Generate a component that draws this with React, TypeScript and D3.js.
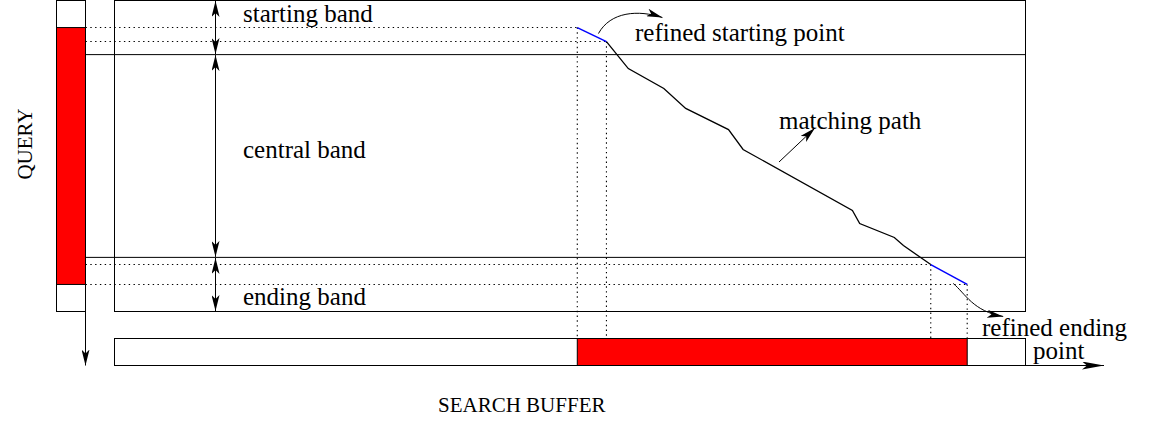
import React from 'react'
import * as d3 from 'd3'

// query axis runs 0..100 top to bottom, search buffer 0..100 left to right
const bandEdges = [0, 17.4, 82.6, 100]
const bandLabels = ['starting band', 'central band', 'ending band']
const refinedStart = [[50.8, 8.7], [54.0, 13.2]]
const refinedEnd = [[89.6, 84.9], [93.6, 91.3]]
const matchingPath = [
  [54.0, 13.2], [56.4, 21.9], [60.3, 28.3], [62.7, 34.7], [67.4, 41.5],
  [69.0, 47.9], [81.0, 67.5], [81.8, 71.7], [85.6, 76.2], [86.6, 78.8], [89.6, 84.9]
]

const W = 1152
const H = 423
const FONT = '"Liberation Serif", "Times New Roman", serif'
const FS = 25

export default function App() {
  const x = d3.scaleLinear().domain([0, 100]).range([114.5, 1025.5])
  const y = d3.scaleLinear().domain([0, 100]).range([0.5, 311.5])
  const line = d3.line<number[]>().x(d => x(d[0])).y(d => y(d[1]))

  const qx0 = 56.5, qx1 = 85.5
  const bufTop = 338.5, bufBot = 365.5
  const arrowX = 215.5

  const sTop = y(refinedStart[0][1]), sBot = y(refinedStart[1][1])
  const eTop = y(refinedEnd[0][1]), eBot = y(refinedEnd[1][1])
  const dotted = { stroke: '#000', strokeWidth: 1.1, strokeDasharray: '1.4,3.4' }

  const p0 = [x(refinedStart[1][0]) - 8, sBot - 8]
  const e0 = [x(refinedEnd[1][0]) - 14, eBot - 1]

  return (
    <svg width={W} height={H} style={{ position: 'absolute', left: 0, top: 0, background: '#fff' }}>
      <defs>
        <marker id="ah" viewBox="0 0 16 8" refX="16" refY="4" markerWidth="16" markerHeight="8"
          markerUnits="userSpaceOnUse" orient="auto-start-reverse">
          <path d="M0,0 L16,4 L0,8 L4,4 Z" fill="#000" />
        </marker>
        <marker id="ahBig" viewBox="0 0 22 8" refX="22" refY="4" markerWidth="22" markerHeight="8"
          markerUnits="userSpaceOnUse" orient="auto">
          <path d="M0,0 L22,4 L0,8 L5,4 Z" fill="#000" />
        </marker>
      </defs>

      {/* query bar */}
      <rect x={qx0} y={y(0)} width={qx1 - qx0} height={y(100) - y(0)} fill="#fff" stroke="#000" />
      <rect x={qx0} y={sTop} width={qx1 - qx0} height={eBot - sTop} fill="#ff0000" stroke="#000" />
      <line x1={qx1} x2={qx1} y1={y(100)} y2={bufBot} stroke="#000" markerEnd="url(#ah)" />
      <text transform={`translate(32,144) rotate(-90)`} textAnchor="middle" fontFamily={FONT} fontSize={21}>QUERY</text>

      {/* main band area */}
      <rect x={x(0)} y={y(0)} width={x(100) - x(0)} height={y(100) - y(0)} fill="none" stroke="#000" />
      {bandEdges.slice(1, -1).map((b, i) => (
        <line key={i} x1={qx1} x2={x(100)} y1={y(b)} y2={y(b)} stroke="#000" />
      ))}

      {/* dotted projections */}
      <line x1={qx1} x2={x(refinedStart[0][0])} y1={sTop} y2={sTop} {...dotted} />
      <line x1={qx1} x2={x(refinedStart[1][0])} y1={sBot} y2={sBot} {...dotted} />
      <line x1={qx1} x2={x(refinedEnd[0][0])} y1={eTop} y2={eTop} {...dotted} />
      <line x1={qx1} x2={x(refinedEnd[1][0])} y1={eBot} y2={eBot} {...dotted} />
      {[refinedStart[0], refinedStart[1], refinedEnd[0], refinedEnd[1]].map((p, i) => (
        <line key={i} x1={x(p[0])} x2={x(p[0])} y1={y(p[1])} y2={bufTop} {...dotted} />
      ))}

      {/* band arrows & labels */}
      {bandLabels.map((lab, i) => (
        <line key={lab} x1={arrowX} x2={arrowX} y1={y(bandEdges[i]) + 0.5} y2={y(bandEdges[i + 1]) - 0.5}
          stroke="#000" markerStart="url(#ah)" markerEnd="url(#ah)" />
      ))}
      <text x={243} y={22} fontFamily={FONT} fontSize={FS}>{bandLabels[0]}</text>
      <text x={243} y={158} fontFamily={FONT} fontSize={FS}>{bandLabels[1]}</text>
      <text x={243} y={305} fontFamily={FONT} fontSize={FS}>{bandLabels[2]}</text>

      {/* matching path */}
      <path d={line(matchingPath) || ''} fill="none" stroke="#000" strokeWidth={1.3} />
      <path d={line(refinedStart) || ''} fill="none" stroke="#0000ff" strokeWidth={1.5} />
      <path d={line(refinedEnd) || ''} fill="none" stroke="#0000ff" strokeWidth={1.5} />

      <line x1={779} y1={162} x2={815} y2={128} stroke="#000" markerEnd="url(#ah)" />
      <text x={779} y={129} fontFamily={FONT} fontSize={FS}>matching path</text>

      <path d={`M${p0[0]},${p0[1]} C${p0[0] + 12},${p0[1] - 22} ${p0[0] + 40},${p0[1] - 24} ${p0[0] + 64},${p0[1] - 16}`}
        fill="none" stroke="#000" markerEnd="url(#ah)" />
      <text x={635} y={41} fontFamily={FONT} fontSize={FS}>refined starting point</text>

      <path d={`M${e0[0]},${e0[1]} C${e0[0] + 12},${e0[1] + 10} ${e0[0] + 20},${e0[1] + 28} ${e0[0] + 50},${e0[1] + 33}`}
        fill="none" stroke="#000" markerEnd="url(#ah)" />

      {/* search buffer */}
      <rect x={x(0)} y={bufTop} width={x(100) - x(0)} height={bufBot - bufTop} fill="#fff" stroke="#000" />
      <rect x={x(refinedStart[0][0])} y={bufTop} width={x(refinedEnd[1][0]) - x(refinedStart[0][0])}
        height={bufBot - bufTop} fill="#ff0000" stroke="#000" />
      <line x1={x(0)} x2={1104} y1={bufBot} y2={bufBot} stroke="#000" markerEnd="url(#ahBig)" />
      <text x={982} y={336} fontFamily={FONT} fontSize={FS}>refined ending</text>
      <text x={1033} y={359} fontFamily={FONT} fontSize={FS}>point</text>
      <text x={438} y={412} fontFamily={FONT} fontSize={21}>SEARCH BUFFER</text>
    </svg>
  )
}
